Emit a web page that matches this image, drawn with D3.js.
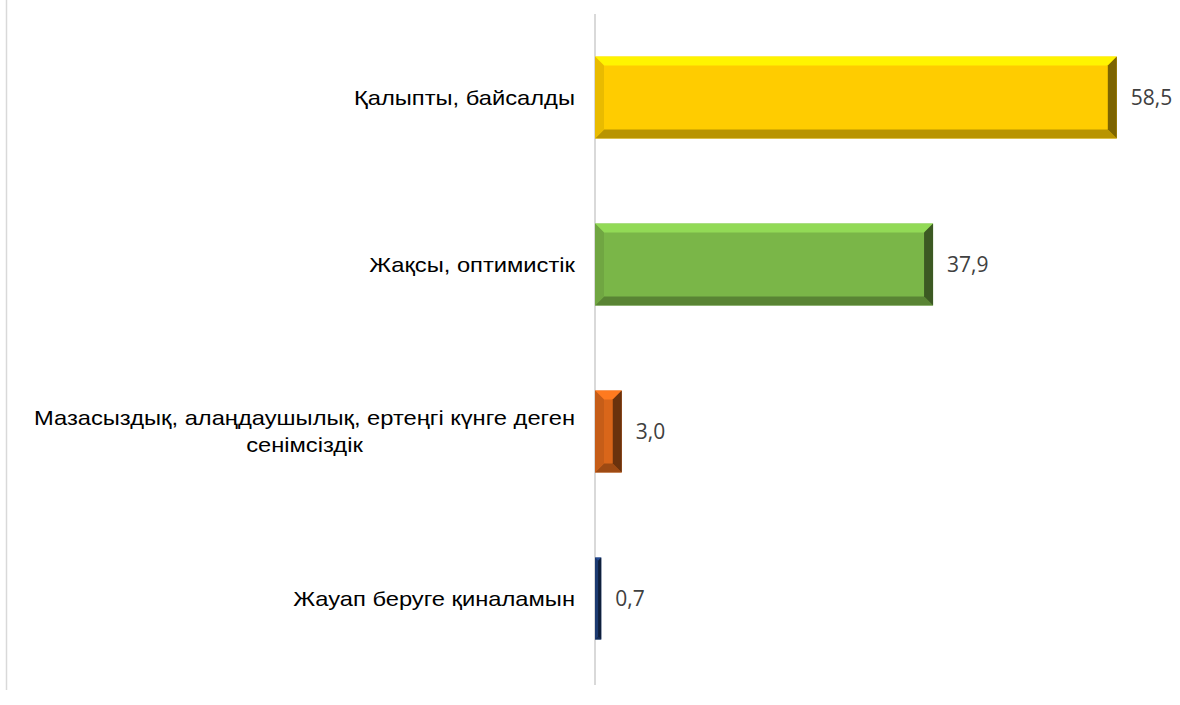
<!doctype html>
<html lang="kk">
<head>
<meta charset="UTF-8">
<title>Chart</title>
<script src="https://d3js.org/d3.v7.min.js"></script>
<style>
  body { margin: 0; background: #fff; }
  svg { display: block; }
  .cat { font-family: "Liberation Sans", Arial, sans-serif; font-size: 21px; fill: #000; }
  .val { font-family: "Open Sans", sans-serif; font-size: 21px; fill: #404040; }
</style>
</head>
<body>
<svg width="1180" height="705"></svg>
<script>
const categories = [
  'Қалыпты, байсалды',
  'Жақсы, оптимистік',
  'Мазасыздық, алаңдаушылық, ертеңгі күнге деген сенімсіздік',
  'Жауап беруге қиналамын'
];
const values = [58.5, 37.9, 3.0, 0.7];
const colors = ['#ffcc00', '#7ab648', '#d9661a', '#1f3f7a'];

const svg = d3.select('svg');
const axisX = 595;
const plotTop = 14, plotBottom = 682;

// frame line on the left
svg.append('line')
  .attr('x1', 6.5).attr('x2', 6.5).attr('y1', 0).attr('y2', 690)
  .attr('stroke', '#d9d9d9').attr('stroke-width', 1.5);

const x = d3.scaleLinear().domain([0, 60]).range([axisX, axisX + 60 * 8.92]);
const y = d3.scaleBand().domain(categories).range([plotTop, plotBottom]).paddingInner(0.51).paddingOuter(0.255);

// category axis line
svg.append('line')
  .attr('x1', axisX).attr('x2', axisX).attr('y1', plotTop).attr('y2', 685)
  .attr('stroke', '#d9d9d9').attr('stroke-width', 2);

const bars = svg.selectAll('g.bar')
  .data(categories.map((c, i) => ({ c, v: values[i], col: colors[i] })))
  .enter().append('g').attr('class', 'bar');

bars.each(function (d) {
  const g = d3.select(this);
  const x0 = x(0), x1 = x(d.v), y0 = y(d.c), y1 = y0 + y.bandwidth();
  const b = Math.min(9, (x1 - x0) / 2, (y1 - y0) / 2);
  const base = d3.color(d.col);
  g.append('rect').attr('x', x0).attr('y', y0).attr('width', x1 - x0).attr('height', y1 - y0)
    .attr('fill', base);
  const polys = [
    { p: [[x0, y0], [x1, y0], [x1 - b, y0 + b], [x0 + b, y0 + b]], f: base.brighter(0.5) },
    { p: [[x0, y1], [x1, y1], [x1 - b, y1 - b], [x0 + b, y1 - b]], f: base.darker(0.9) },
    { p: [[x0, y0], [x0 + b, y0 + b], [x0 + b, y1 - b], [x0, y1]], f: base.darker(0.25) },
    { p: [[x1, y0], [x1 - b, y0 + b], [x1 - b, y1 - b], [x1, y1]], f: base.darker(2) }
  ];
  g.selectAll('polygon').data(polys).enter().append('polygon')
    .attr('points', p => p.p.map(q => q.join(',')).join(' '))
    .attr('fill', p => p.f);
  g.append('text').attr('class', 'val')
    .attr('x', x1 + 14).attr('y', (y0 + y1) / 2).attr('dy', '0.35em')
    .text(d3.format('.1f')(d.v).replace('.', ','));
});

// category labels, wrapped and centered in a right-aligned box
const labelRight = 575, stretch = 1.13, maxW = 560 / stretch, lineH = 27;
const labels = svg.append('g')
  .attr('transform', `translate(${labelRight},0) scale(${stretch},1) translate(${-labelRight},0)`);
categories.forEach(c => {
  const t = labels.append('text').attr('class', 'cat').attr('text-anchor', 'middle');
  const words = c.split(' ');
  const lines = [];
  let cur = [];
  const probe = labels.append('text').attr('class', 'cat');
  words.forEach(w => {
    const test = cur.concat([w]).join(' ');
    probe.text(test);
    if (probe.node().getComputedTextLength() > maxW && cur.length) {
      lines.push(cur.join(' '));
      cur = [w];
    } else cur.push(w);
  });
  lines.push(cur.join(' '));
  let widest = 0;
  lines.forEach(l => { probe.text(l); widest = Math.max(widest, probe.node().getComputedTextLength()); });
  probe.remove();
  const cx = labelRight - widest / 2;
  const cy = y(c) + y.bandwidth() / 2;
  lines.forEach((l, i) => {
    t.append('tspan').attr('x', cx)
      .attr('y', cy + (i - (lines.length - 1) / 2) * lineH)
      .attr('dy', '0.35em').text(l);
  });
});
</script>
</body>
</html>
